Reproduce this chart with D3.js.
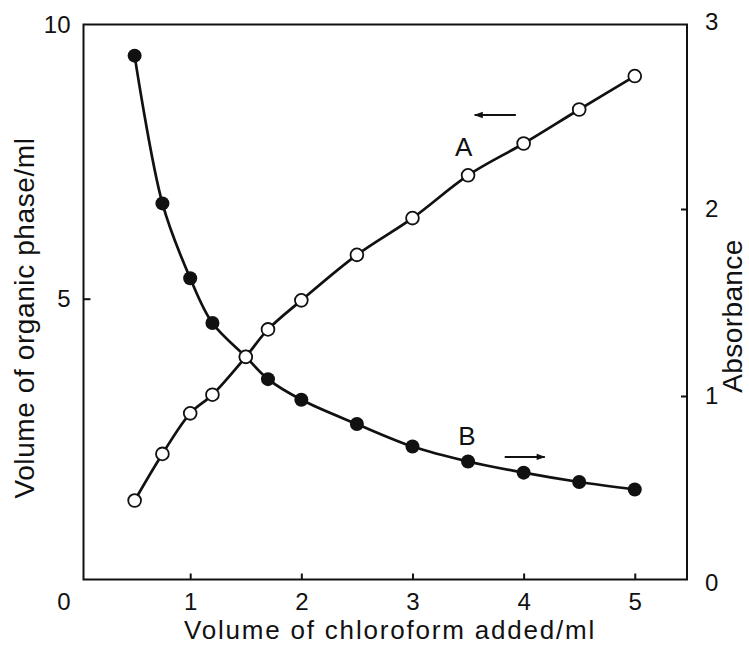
<!DOCTYPE html>
<html>
<head>
<meta charset="utf-8">
<script src="https://cdn.jsdelivr.net/npm/d3@7"></script>
<style>
  html, body { margin: 0; padding: 0; background: #fff; }
  svg { display: block; font-family: "Liberation Sans", Arial, Helvetica, sans-serif; }
</style>
</head>
<body>
<svg id="chart" width="749" height="645"></svg>
<script>
// ---------- data ----------
const chloroformAdded = [0.5, 0.75, 1.0, 1.2, 1.5, 1.7, 2.0, 2.5, 3.0, 3.5, 4.0, 4.5, 5.0];
const organicPhaseVolume = [1.32, 2.17, 2.91, 3.25, 3.94, 4.44, 4.97, 5.80, 6.47, 7.25, 7.83, 8.45, 9.06]; // curve A (left axis)
const absorbanceValues = [2.82, 2.03, 1.63, 1.39, 1.21, 1.09, 0.98, 0.85, 0.73, 0.65, 0.59, 0.54, 0.50]; // curve B (right axis)
const xTickValues = [1, 2, 3, 4, 5];
const leftTickValues = [5, 10];
const rightTickValues = [0, 1, 2, 3];
const xTitle = "Volume of chloroform added/ml";
const leftTitle = "Volume of organic phase/ml";
const rightTitle = "Absorbance";
// annotations: label + arrow, in data units
const curveLabels = [
  { text: "A", x: 3.46, y: 7.77, axis: "left", arrowFrom: 3.93, arrowTo: 3.56, arrowY: 8.35 },
  { text: "B", x: 3.49, y: 0.79, axis: "right", arrowFrom: 3.83, arrowTo: 4.19, arrowY: 0.674 }
];

// ---------- layout ----------
const frame = { left: 83.5, right: 687, top: 24.5, bottom: 579.5 };
const svg = d3.select("#chart");

const x = d3.scaleLinear().domain([0.04, 5.47]).range([frame.left, frame.right]);
const yL = d3.scaleLinear().domain([-0.12, 10]).range([frame.bottom, frame.top]);
const yR = d3.scaleLinear().domain([0, 3]).range([583, 22]);

// frame
svg.append("rect")
  .attr("x", frame.left).attr("y", frame.top)
  .attr("width", frame.right - frame.left).attr("height", frame.bottom - frame.top)
  .attr("fill", "none").attr("stroke", "#111").attr("stroke-width", 2);

// axes
const tickFont = 24;
const fmt = d3.format("d");
const gx = svg.append("g").attr("transform", `translate(0,${frame.bottom})`)
  .call(d3.axisBottom(x).tickValues(xTickValues).tickFormat(fmt).tickSizeInner(-6).tickSizeOuter(0).tickPadding(13));
const gl = svg.append("g").attr("transform", `translate(${frame.left},0)`)
  .call(d3.axisLeft(yL).tickValues(leftTickValues).tickFormat(fmt).tickSizeInner(-7).tickSizeOuter(0).tickPadding(13));
const gr = svg.append("g").attr("transform", `translate(${frame.right},0)`)
  .call(d3.axisRight(yR).tickValues(rightTickValues).tickFormat(fmt).tickSizeInner(-6).tickSizeOuter(0).tickPadding(18));
[gx, gl, gr].forEach(g => {
  g.select(".domain").remove();
  g.selectAll(".tick line").attr("stroke", "#111").attr("stroke-width", 2);
  g.selectAll(".tick text").attr("fill", "#111").style("font-size", tickFont + "px");
  g.attr("font-family", null).attr("font-size", null);
});
gl.selectAll(".tick").filter(d => d === 10).select("line").remove();
gr.selectAll(".tick").filter(d => d === 0 || d === 3).select("line").remove();
gr.selectAll(".tick text").attr("text-anchor", "start");

// origin label "0" for x axis
svg.append("text")
  .attr("x", x(0) - 15).attr("y", frame.bottom + 13).attr("dy", "0.71em")
  .attr("text-anchor", "middle").attr("fill", "#111").style("font-size", tickFont + "px")
  .text("0");

// axis titles
const titleFont = 26;
svg.append("text")
  .attr("x", 390).attr("y", 639)
  .attr("text-anchor", "middle").attr("fill", "#111").style("font-size", titleFont + "px")
  .style("letter-spacing", "1.8px")
  .text(xTitle);
svg.append("text")
  .attr("transform", `translate(34,318) rotate(-90)`)
  .attr("text-anchor", "middle").attr("fill", "#111").style("font-size", "28px")
  .style("letter-spacing", "0.6px")
  .text(leftTitle);
svg.append("text")
  .attr("transform", `translate(742,316) rotate(-90)`)
  .attr("text-anchor", "middle").attr("fill", "#111").style("font-size", "28px")
  .style("letter-spacing", "0.4px")
  .text(rightTitle);

// curves
const ptsA = chloroformAdded.map((v, i) => [v, organicPhaseVolume[i]]);
const ptsB = chloroformAdded.map((v, i) => [v, absorbanceValues[i]]);
const lineA = d3.line().x(d => x(d[0])).y(d => yL(d[1])).curve(d3.curveCatmullRom.alpha(0.5));
const lineB = d3.line().x(d => x(d[0])).y(d => yR(d[1])).curve(d3.curveCatmullRom.alpha(0.5));
svg.append("path").datum(ptsA).attr("d", lineA).attr("fill", "none").attr("stroke", "#111").attr("stroke-width", 2.7);
svg.append("path").datum(ptsB).attr("d", lineB).attr("fill", "none").attr("stroke", "#111").attr("stroke-width", 2.7);

// markers
svg.append("g").selectAll("circle").data(ptsB).join("circle")
  .attr("cx", d => x(d[0])).attr("cy", d => yR(d[1])).attr("r", 7).attr("fill", "#111");
svg.append("g").selectAll("circle").data(ptsA).join("circle")
  .attr("cx", d => x(d[0])).attr("cy", d => yL(d[1])).attr("r", 6.4).attr("fill", "#fff")
  .attr("stroke", "#111").attr("stroke-width", 1.8);

// arrowhead marker
svg.append("defs").append("marker")
  .attr("id", "arrowhead").attr("viewBox", "0 0 10 10").attr("refX", 9).attr("refY", 5)
  .attr("markerWidth", 11).attr("markerHeight", 9).attr("markerUnits", "userSpaceOnUse")
  .attr("orient", "auto")
  .append("path").attr("d", "M0,1.5 L10,5 L0,8.5 Z").attr("fill", "#111");

// labels A / B with arrows
curveLabels.forEach(c => {
  const ys = c.axis === "left" ? yL : yR;
  svg.append("text")
    .attr("x", x(c.x)).attr("y", ys(c.y)).attr("dy", "0.36em")
    .attr("text-anchor", "middle").attr("fill", "#111").style("font-size", "26px")
    .text(c.text);
  svg.append("line")
    .attr("x1", x(c.arrowFrom)).attr("x2", x(c.arrowTo))
    .attr("y1", ys(c.arrowY)).attr("y2", ys(c.arrowY))
    .attr("stroke", "#111").attr("stroke-width", 2)
    .attr("marker-end", "url(#arrowhead)");
});
</script>
</body>
</html>
